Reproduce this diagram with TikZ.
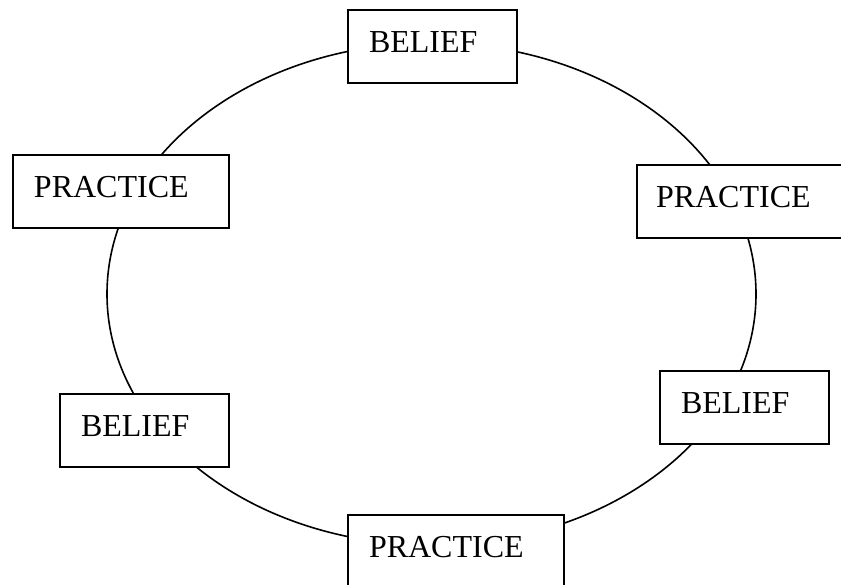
\documentclass[tikz,border=0pt]{standalone}
\usepackage{fontspec}
\setmainfont{Liberation Serif}
\usetikzlibrary{positioning,calc}

\begin{document}
\begin{tikzpicture}[x=1pt,y=-1pt,semithick,every node/.style={font=\fontsize{32}{38}\selectfont}]
\tikzstyle{word}=[rectangle,draw,fill=white,line width=2pt,anchor=north west,align=left,inner xsep=21pt,inner ysep=0pt,text height=42pt,text depth=31pt]
  \tikzstyle{cycle}=[line width=1.6pt]
%
%
\useasboundingbox (0,0) rectangle (841,584);
  \draw[cycle] (431.5,294) ellipse (324.5pt and 251pt);
%
\node[word,text width=127pt] (bel0) at (347,9) {BELIEF};
  \node[word,text width=174pt] (prac0) at (12,154) {PRACTICE};
  \node[word,inner xsep=19pt,text width=178pt] (prac1) at (636,164) {PRACTICE};
  \node[word,text width=127pt] (bel1) at (59,393) {BELIEF};
  \node[word,text width=127pt] (bel2) at (659,370) {BELIEF};
  \node[word,text width=174pt] (prac2) at (347,514) {PRACTICE};
\end{tikzpicture}
\end{document}
